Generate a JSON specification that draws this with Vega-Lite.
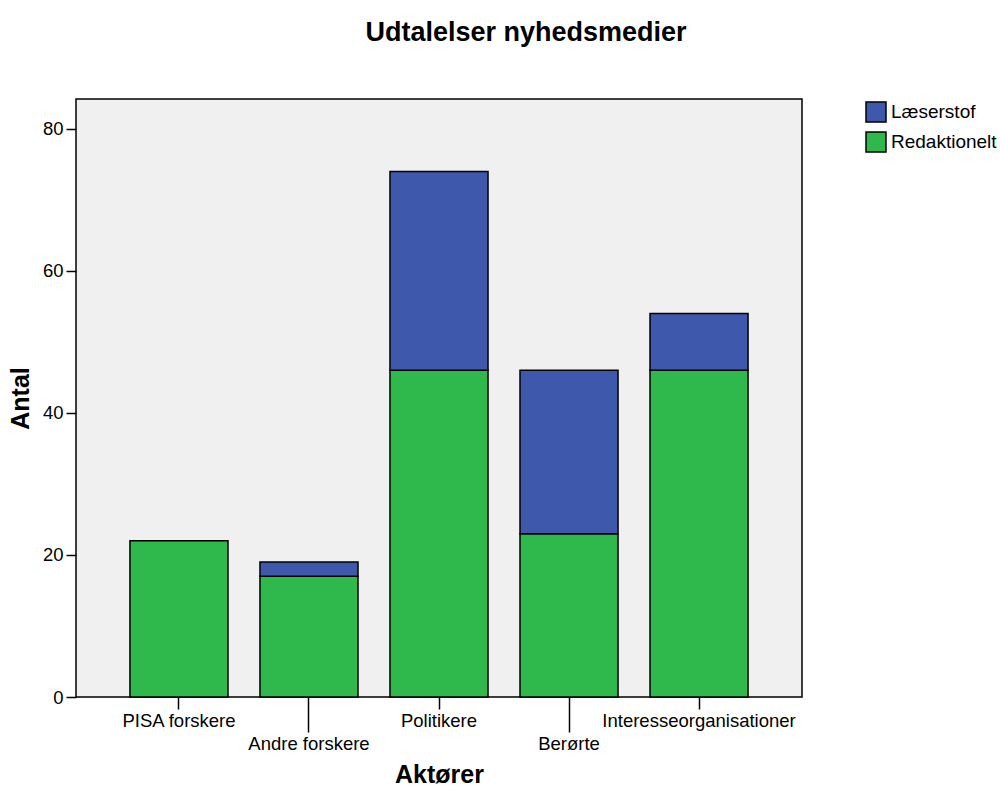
{
  "$schema": "https://vega.github.io/schema/vega-lite/v6.json",
  "width": 726,
  "height": 598,
  "autosize": "none",
  "padding": {"left": 76, "top": 99, "right": 198, "bottom": 91},
  "background": "white",
  "title": {
    "text": "Udtalelser nyhedsmedier",
    "font": "Liberation Sans",
    "fontSize": 27,
    "fontWeight": "bold",
    "color": "black",
    "anchor": "middle",
    "frame": "group",
    "dx": 87,
    "offset": 52
  },
  "config": {
    "view": {"fill": "#f0f0f0", "stroke": "black", "strokeWidth": 1.5},
    "font": "Liberation Sans"
  },
  "data": {
    "values": [
      {"Aktor": "PISA forskere", "Type": "Redaktionelt", "Antal": 22},
      {"Aktor": "Andre forskere", "Type": "Redaktionelt", "Antal": 17},
      {"Aktor": "Andre forskere", "Type": "Læserstof", "Antal": 2},
      {"Aktor": "Politikere", "Type": "Redaktionelt", "Antal": 46},
      {"Aktor": "Politikere", "Type": "Læserstof", "Antal": 28},
      {"Aktor": "Berørte", "Type": "Redaktionelt", "Antal": 23},
      {"Aktor": "Berørte", "Type": "Læserstof", "Antal": 23},
      {"Aktor": "Interesseorganisationer", "Type": "Redaktionelt", "Antal": 46},
      {"Aktor": "Interesseorganisationer", "Type": "Læserstof", "Antal": 8}
    ]
  },
  "mark": {"type": "bar", "stroke": "black", "strokeWidth": 1.5},
  "encoding": {
    "x": {
      "field": "Aktor",
      "type": "nominal",
      "sort": ["PISA forskere", "Andre forskere", "Politikere", "Berørte", "Interesseorganisationer"],
      "scale": {"paddingInner": 0.246, "paddingOuter": 0.415},
      "axis": {
        "title": "Aktører",
        "titleFont": "Liberation Sans",
        "titleFontSize": 25,
        "titleFontWeight": "bold",
        "titleColor": "black",
        "titlePadding": 10,
        "labelAngle": 0,
        "labelFont": "Liberation Sans",
        "labelFontSize": 18.5,
        "labelColor": "black",
        "labelOverlap": false,
        "labelBound": false,
        "labelLimit": 0,
        "domain": false,
        "tickColor": "black",
        "tickWidth": 1.5,
        "tickSize": {"condition": {"test": "indexof(['Andre forskere','Berørte'], datum.value) >= 0", "value": 35}, "value": 12},
        "labelPadding": 2
      }
    },
    "y": {
      "field": "Antal",
      "type": "quantitative",
      "aggregate": "sum",
      "stack": "zero",
      "scale": {"domain": [0, 84.2], "nice": false},
      "axis": {
        "title": "Antal",
        "titleFont": "Liberation Sans",
        "titleFontSize": 25,
        "titleFontWeight": "bold",
        "titleColor": "black",
        "titlePadding": 9,
        "values": [0, 20, 40, 60, 80],
        "grid": false,
        "domain": false,
        "labelFont": "Liberation Sans",
        "labelFontSize": 18.5,
        "labelColor": "black",
        "tickColor": "black",
        "tickWidth": 1.5,
        "tickSize": 10,
        "labelPadding": 3
      }
    },
    "color": {
      "field": "Type",
      "type": "nominal",
      "scale": {"domain": ["Læserstof", "Redaktionelt"], "range": ["#3e59ac", "#2fb84b"]},
      "legend": {
        "title": null,
        "orient": "none",
        "legendX": 789,
        "legendY": 2,
        "symbolType": "square",
        "symbolSize": 400,
        "symbolStrokeColor": "black",
        "symbolStrokeWidth": 1.5,
        "symbolOpacity": 1,
        "labelFont": "Liberation Sans",
        "labelFontSize": 19,
        "labelColor": "black",
        "rowPadding": 4,
        "labelOffset": 4
      }
    },
    "order": {"field": "Type", "sort": "descending"}
  }
}
